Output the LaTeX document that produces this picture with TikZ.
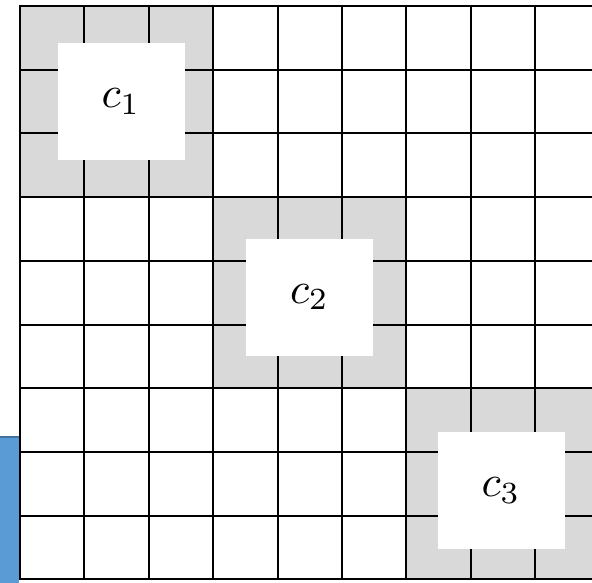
\documentclass[tikz,border=0pt]{standalone}
\usepackage{graphicx}
\usepackage{xcolor}
\definecolor{cellgray}{HTML}{D9D9D9}
\definecolor{blueC}{HTML}{5B9BD5}
\definecolor{blueB}{HTML}{41719C}
\newcommand{\biglabel}[1]{\scalebox{4.4}{$#1$}}
\begin{document}
\begin{tikzpicture}[x=1pt,y=-1pt,
  gridline/.style={line width=2pt,black},
  hole/.style={fill=white,draw=none,minimum width=127pt,minimum height=117pt,inner sep=0pt}]
\useasboundingbox (0,0) rectangle (592,582);
\clip (0,0) rectangle (592,582);
% gray blocks
\fill[cellgray] (20,6) rectangle (213.2,197.1);
\fill[cellgray] (213.2,197.1) rectangle (406.4,388.2);
\fill[cellgray] (406.4,388.2) rectangle (600,579.3);
% grid
\foreach \i in {0,...,9}{
  \draw[gridline] ({20+64.4*\i},5) -- ({20+64.4*\i},580.3);
  \draw[gridline] (19,{6+63.7*\i}) -- (600,{6+63.7*\i});
}
% white holes with labels
\node[hole] (c1) at (121,101.5) {\biglabel{c_1}};
\node[hole] (c2) at (309.5,297) {\biglabel{c_2}};
\node[hole] (c3) at (501,490.5) {\biglabel{c_3}};
% blue side box
\fill[blueC] (-2,436) rectangle (19,584);
\draw[blueB,line width=2pt] (-2,437) -- (19,437);
\end{tikzpicture}
\end{document}
